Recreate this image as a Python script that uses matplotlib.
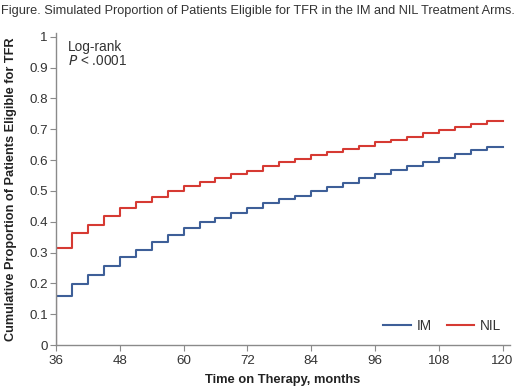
import matplotlib
matplotlib.use("Agg")
import matplotlib.pyplot as plt
import numpy as np

plt.rcParams['font.family'] = ['Liberation Sans', 'DejaVu Sans']

months = list(range(36, 121, 3))  # step edges 36..120
nil_vals = [0.315, 0.362, 0.390, 0.420, 0.445, 0.463, 0.481, 0.499, 0.516, 0.530,
            0.543, 0.555, 0.566, 0.581, 0.592, 0.604, 0.615, 0.626, 0.635, 0.646,
            0.657, 0.666, 0.676, 0.688, 0.698, 0.707, 0.716, 0.726]
im_vals = [0.160, 0.198, 0.227, 0.255, 0.285, 0.309, 0.333, 0.357, 0.380, 0.398,
           0.413, 0.429, 0.445, 0.461, 0.473, 0.484, 0.498, 0.513, 0.527, 0.541,
           0.556, 0.569, 0.579, 0.593, 0.606, 0.618, 0.631, 0.643]
xticks = [36, 48, 60, 72, 84, 96, 108, 120]
yticks = [0, 0.1, 0.2, 0.3, 0.4, 0.5, 0.6, 0.7, 0.8, 0.9, 1]
ytick_labels = ['0', '0.1', '0.2', '0.3', '0.4', '0.5', '0.6', '0.7', '0.8', '0.9', '1']

blue = '#3e5f98'
red = '#d63a33'
gray = '#8a8a8a'
txt = '#333333'

fig = plt.figure(figsize=(5.2, 3.88), dpi=100)
ax = fig.add_axes([56/520, 43/388, 454/520, 312/388])

def step_xy(vals):
    x = [months[0]] + months
    y = [0] + vals + [vals[-1]]
    return x, y

x, y = step_xy(im_vals)
ax.step(x, y, where='post', color=blue, lw=1.5, label='IM')
x, y = step_xy(nil_vals)
ax.step(x, y, where='post', color=red, lw=1.5, label='NIL')

ax.set_xlim(36, 121.4)
ax.set_ylim(0, 1.012)
ax.set_xticks(xticks)
ax.set_xticklabels([str(t) for t in xticks])
ax.set_yticks(yticks)
ax.set_yticklabels(ytick_labels)
for s in ['top', 'right']:
    ax.spines[s].set_visible(False)
for s in ['left', 'bottom']:
    ax.spines[s].set_color(gray)
    ax.spines[s].set_linewidth(1.0)
ax.tick_params(axis='both', colors=gray, labelcolor=txt, labelsize=9.6, length=4, width=0.8)
ax.tick_params(axis='y', pad=2)

ax.set_xlabel('Time on Therapy, months', fontsize=9.3, fontweight='bold', color='#222222', labelpad=5)
ax.set_ylabel('Cumulative Proportion of Patients Eligible for TFR', fontsize=9.2,
              fontweight='bold', color='#222222')
ax.yaxis.set_label_coords(-0.086, 0.5)

ax.text(38.2, 0.99, 'Log-rank\n' + r'$\it{P}$ < .0001', fontsize=9.8, color=txt, va='top',
        linespacing=1.05)

leg = ax.legend(loc='lower right', ncol=2, frameon=False, fontsize=9.8,
                handlelength=2.0, columnspacing=1.1, handletextpad=0.45,
                bbox_to_anchor=(1.008, 0.0))
for t in leg.get_texts():
    t.set_color(txt)

fig.text(0.002, 0.988, 'Figure. Simulated Proportion of Patients Eligible for TFR in the IM and NIL Treatment Arms.',
         fontsize=9.2, color=txt, va='top', ha='left')

fig.savefig('out.png', dpi=100)
